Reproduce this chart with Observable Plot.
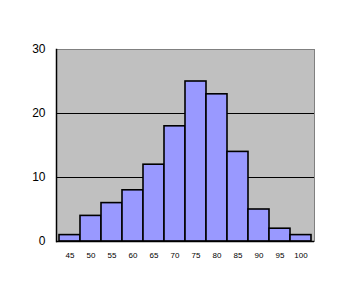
<!DOCTYPE html>
<html><head><meta charset="utf-8">
<script src="https://cdn.jsdelivr.net/npm/d3@7"></script>
<script src="https://cdn.jsdelivr.net/npm/@observablehq/plot@0.6"></script>
<style>body{margin:0;background:#fff}</style>
</head><body><div id="chart"></div>
<script>
const bins = ["45","50","55","60","65","70","75","80","85","90","95","100"];
const counts = [1,4,6,8,12,18,25,23,14,5,2,1];
const yTicks = [0,10,20,30];
const data = bins.map((b,i)=>({bin:b,count:counts[i]}));
const chart = Plot.plot({
  width:350, height:300,
  marginLeft:56, marginRight:36, marginTop:49, marginBottom:59,
  style:{background:"white", fontFamily:"Arial, 'Liberation Sans', sans-serif", color:"black"},
  x:{domain:bins, padding:0, label:null},
  y:{domain:[0,30], label:null},
  marks:[
    Plot.frame({fill:"#C0C0C0", stroke:"#808080"}),
    Plot.frame({anchor:"left", stroke:"black", strokeWidth:1.5}),
    Plot.gridY([10,20], {stroke:"black", strokeOpacity:1, strokeWidth:1.2}),
    Plot.barY(data,{x:"bin", y:"count", fill:"#9999FF", stroke:"black", strokeWidth:1.6}),
    Plot.ruleY([0], {stroke:"black", strokeWidth:1.5}),
    Plot.axisY({ticks:yTicks, tickSize:0, tickPadding:11, fontSize:12, label:null}),
    Plot.axisX({tickSize:0, tickPadding:11, fontSize:8, label:null})
  ]
});
document.getElementById("chart").append(chart);
</script></body></html>
